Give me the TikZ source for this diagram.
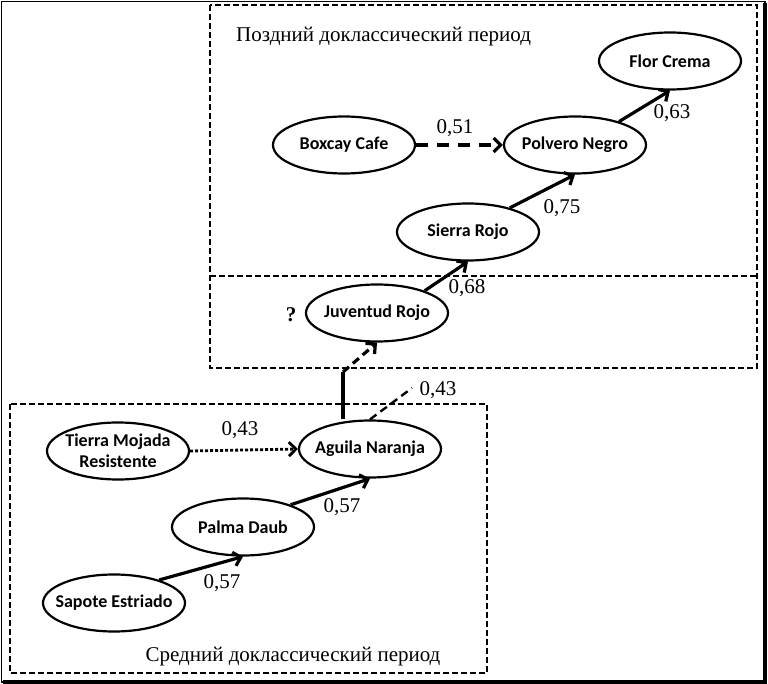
\documentclass[tikz,border=0pt]{standalone}
\usepackage{fontspec}
\setmainfont{Liberation Serif}
\newfontfamily\carlito{Carlito}
\usetikzlibrary{arrows.meta,shapes.geometric}

\begin{document}
\begin{tikzpicture}[x=1pt,y=-1pt,
  site/.style={draw,ellipse,line width=2.2pt,minimum width=142pt,minimum height=57pt,inner xsep=-18pt,inner ysep=-4pt,align=center,font=\carlito\bfseries\fontsize{18}{21}\selectfont},
  num/.style={inner sep=0pt,font=\fontsize{21}{23}\selectfont},
  link/.style={line width=3.2pt,-{Straight Barb[length=7pt,width=14pt]}},
  zone/.style={line width=1.6pt,dash pattern=on 6pt off 3pt}]
\useasboundingbox (0,0) rectangle (768,684);
\draw[line width=1.6pt] (1.5,1.5) rectangle (765,682);
\draw[line width=3.5pt] (765,3) -- (765,682) -- (3,682);
\draw[zone] (210,5) rectangle (757,368);
\draw[zone] (210,276) -- (757,276);
\draw[zone] (10,404) rectangle (487,673);

\node[site] (flor) at (670,61) {Flor Crema};
\node[site] (polv) at (575,145) {Polvero Negro};
\node[site] (boxc) at (344,145) {Boxcay Cafe};
\node[site] (sier) at (468,232) {Sierra Rojo};
\node[site] (juve) at (377,313) {Juventud Rojo};
\node[site] (agui) at (370,449) {Aguila Naranja};
\node[site] (tier) at (118,451) {Tierra Mojada\\Resistente};
\node[site] (palm) at (243,527) {Palma Daub};
\node[site] (sapo) at (114,603) {Sapote Estriado};

\node[num,anchor=west] (late) at (236,37) {Поздний доклассический период};
\node[num] (middle) at (293,657) {Средний доклассический период};
\node[num,font=\bfseries\fontsize{21}{23}\selectfont] (q) at (291,315) {?};
\node[num] (n63) at (672,113) {0,63};
\node[num] (n51) at (455,128) {0,51};
\node[num] (n75) at (562,208) {0,75};
\node[num] (n68) at (467,288) {0,68};
\node[num] (n43r) at (438,390) {0,43};
\node[num] (n43l) at (240,430) {0,43};
\node[num] (n57u) at (342,507) {0,57};
\node[num] (n57l) at (222,583) {0,57};

\coordinate (turn) at (343,372);
\coordinate (loose) at (412,388);
\draw[link] (sapo.27) -- (palm.south);
\draw[link] (palm.25) -- (agui.south);
\draw[link,line width=2.8pt,dash pattern=on 3pt off 2pt] (tier.east) -- (agui.west);
\draw[line width=3.2pt] (agui.north -| turn) -- (turn);
\draw[link,dash pattern=on 8pt off 5pt] (turn) -- (juve.south);
\draw[line width=2.4pt,dash pattern=on 8pt off 5pt] (agui.north) -- (loose);
\draw[link] (juve.25) -- (sier.south);
\draw[link] (sier.30) -- (polv.south);
\draw[link,dash pattern=on 12pt off 9pt] (boxc.east) -- (polv.west);
\draw[link] (polv.28) -- (flor.south);
\end{tikzpicture}
\end{document}
